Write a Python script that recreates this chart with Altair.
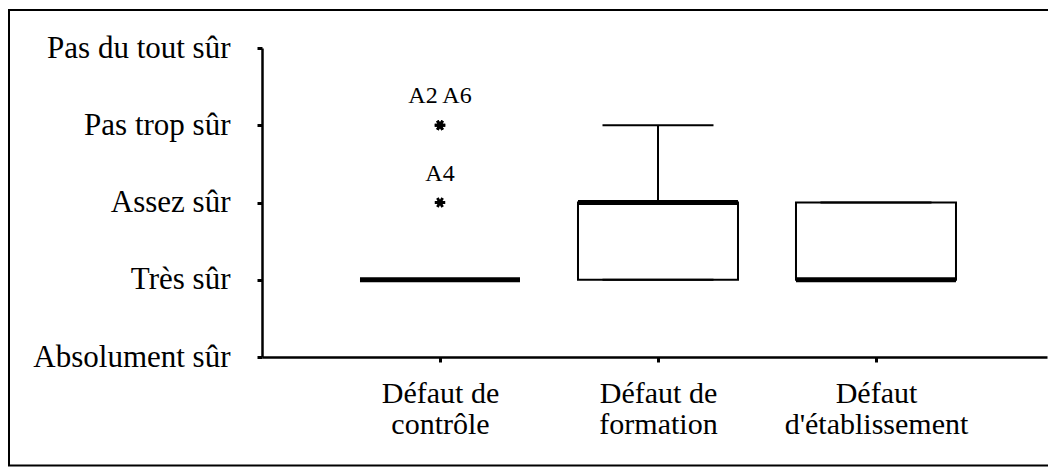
import altair as alt
import pandas as pd

# ---- data ----
categories = ["Défaut de\ncontrôle", "Défaut de\nformation", "Défaut\nd'établissement"]
levels = ["Absolument sûr", "Très sûr", "Assez sûr", "Pas trop sûr", "Pas du tout sûr"]
lower_whisker = [1, 1, 1]
q1 = [1, 1, 1]
median = [1, 2, 1]
q3 = [1, 2, 2]
upper_whisker = [1, 3, 2]

outlier_cases = ["A2", "A6", "A4"]
outlier_category = ["Défaut de\ncontrôle", "Défaut de\ncontrôle", "Défaut de\ncontrôle"]
outlier_values = [3, 3, 2]

stats = pd.DataFrame({
    "category": categories,
    "lower": lower_whisker,
    "q1": q1,
    "median": median,
    "q3": q3,
    "upper": upper_whisker,
})
outliers = pd.DataFrame({
    "category": outlier_category,
    "case": outlier_cases,
    "value": outlier_values,
})
outlier_labels = (
    outliers.groupby(["category", "value"], sort=False)["case"]
    .apply(lambda s: " ".join(s))
    .reset_index()
    .rename(columns={"case": "label"})
)

FONT = "Liberation Serif"
W, H = 785, 309
PAD_L, PAD_T, PAD_R, PAD_B = 254, 40, 1, 110

xscale = alt.Scale(type="point", domain=categories, padding=0.8005, align=0.51)
yscale = alt.Scale(domain=[0, 4], nice=False, zero=False)

level_array = "[" + ",".join("'" + l + "'" for l in levels) + "]"

xaxis = alt.Axis(
    title=None, grid=False, labelAngle=0,
    labelExpr="split(datum.label, '\\n')",
    labelFont=FONT, labelFontSize=30, labelLineHeight=31, labelColor="black",
    labelBaseline="alphabetic", labelPadding=40, labelLimit=500,
    tickSize=5, tickWidth=3, tickColor="black",
    domainColor="black", domainWidth=2.5,
)
yaxis = alt.Axis(
    title=None, grid=False, values=[0, 1, 2, 3, 4],
    labelExpr=level_array + "[datum.value]",
    labelFont=FONT, labelFontSize=31, labelColor="black",
    labelBaseline="alphabetic", labelOffset=9, labelPadding=27, labelLimit=500,
    tickSize=5, tickWidth=3, tickColor="black",
    domainColor="black", domainWidth=2.5,
)

X = alt.X("category:N", scale=xscale, axis=xaxis, sort=categories)

base = alt.Chart(stats)

box = base.mark_bar(size=160, fill="white", stroke="black", strokeWidth=2, opacity=1).encode(
    x=X, y=alt.Y("q1:Q", scale=yscale, axis=yaxis), y2="q3:Q"
)
whisker_up = base.mark_rule(color="black", strokeWidth=2).encode(
    x=X, y=alt.Y("q3:Q", scale=yscale, axis=yaxis), y2="upper:Q"
)
whisker_low = base.mark_rule(color="black", strokeWidth=2).encode(
    x=X, y=alt.Y("lower:Q", scale=yscale, axis=yaxis), y2="q1:Q"
)
cap_up = base.mark_tick(size=111, thickness=2, color="black", opacity=1).encode(
    x=X, y=alt.Y("upper:Q", scale=yscale, axis=yaxis)
)
cap_low = base.mark_tick(size=111, thickness=2, color="black", opacity=1).encode(
    x=X, y=alt.Y("lower:Q", scale=yscale, axis=yaxis)
)
med = base.mark_tick(size=160, thickness=5, color="black", opacity=1).encode(
    x=X, y=alt.Y("median:Q", scale=yscale, axis=yaxis)
)

asterisk = "M-1,0L1,0M-0.5,-0.866L0.5,0.866M-0.5,0.866L0.5,-0.866"
pts = alt.Chart(outliers).mark_point(
    shape=asterisk, size=110, strokeWidth=2.8, color="black", opacity=1, filled=False
).encode(x=X, y=alt.Y("value:Q", scale=yscale, axis=yaxis))

lbls = alt.Chart(outlier_labels).mark_text(
    font=FONT, fontSize=24, color="black", baseline="alphabetic", dy=-22, align="center"
).encode(x=X, y=alt.Y("value:Q", scale=yscale, axis=yaxis), text="label:N")

# frame around the figure (left, top and bottom edges; the right edge lies outside the picture)
frame_src = alt.Data(values=[{"f": 1}])
f_left, f_top, f_bottom, f_right = -PAD_L + 1, -PAD_T + 2, H + PAD_B - 1.5, W + PAD_R
frame_left = alt.Chart(frame_src).mark_rule(color="black", strokeWidth=2).encode(
    x=alt.value(f_left), y=alt.value(f_top), y2=alt.value(f_bottom)
)
frame_top = alt.Chart(frame_src).mark_rule(color="black", strokeWidth=2).encode(
    x=alt.value(-PAD_L), x2=alt.value(f_right), y=alt.value(f_top)
)
frame_bottom = alt.Chart(frame_src).mark_rule(color="black", strokeWidth=2).encode(
    x=alt.value(-PAD_L), x2=alt.value(f_right), y=alt.value(f_bottom)
)

chart = alt.layer(
    frame_left, frame_top, frame_bottom,
    box, whisker_up, whisker_low, cap_up, cap_low, med, pts, lbls
).properties(
    width=W, height=H,
    padding={"left": PAD_L, "top": PAD_T, "right": PAD_R, "bottom": PAD_B},
    autosize=alt.AutoSizeParams(type="none"),
    background="white",
).configure_view(strokeWidth=0)

chart.save("out.html", embed_options={"renderer": "svg", "actions": False})
